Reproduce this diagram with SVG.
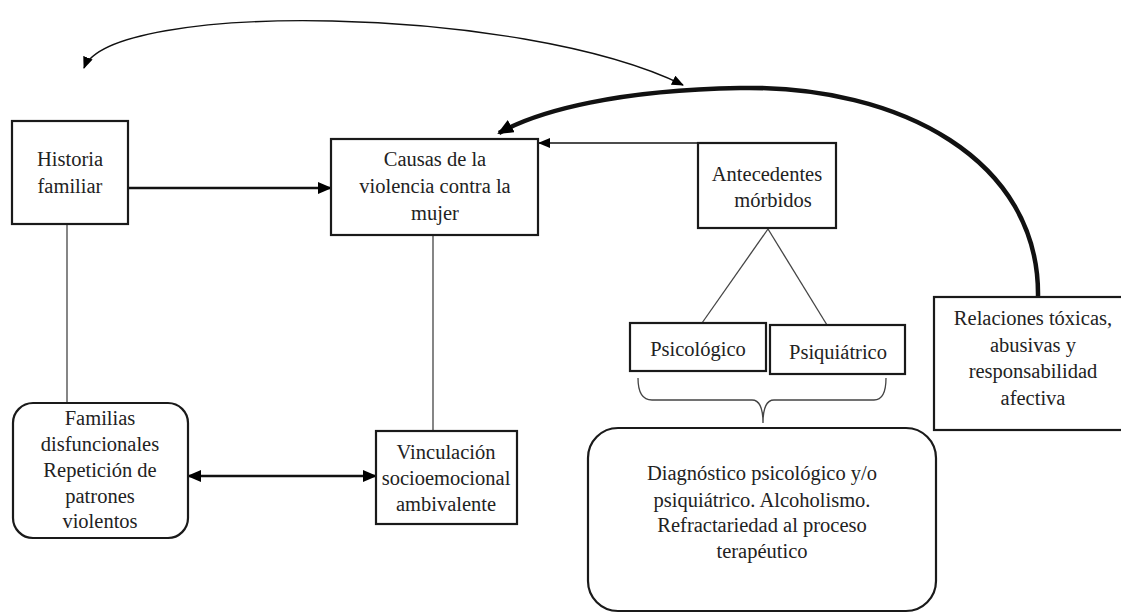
<svg xmlns="http://www.w3.org/2000/svg" width="1121" height="614" viewBox="0 0 1121 614">
<style>
.box{fill:#fff;stroke:#1a1a1a;stroke-width:2.2}
.t{font-family:"Liberation Serif","Times New Roman",serif;font-size:20.5px;fill:#222;text-anchor:middle}
.thin{fill:none;stroke:#444;stroke-width:1.3}
.arr{fill:none;stroke:#111}
</style>
<defs>
<marker id="ah" viewBox="0 0 12 10" refX="11" refY="5" markerWidth="12" markerHeight="10" markerUnits="userSpaceOnUse" orient="auto-start-reverse"><path d="M0,0 L12,5 L0,10 z" fill="#000"/></marker>
<marker id="ahb" viewBox="0 0 14 12" refX="13" refY="6" markerWidth="14" markerHeight="12" markerUnits="userSpaceOnUse" orient="auto-start-reverse"><path d="M0,0 L14,6 L0,12 z" fill="#000"/></marker>
<marker id="ahk" viewBox="0 0 16 14" refX="14" refY="7" markerWidth="16" markerHeight="14" markerUnits="userSpaceOnUse" orient="auto"><path d="M0,0 L16,7 L0,14 z" fill="#000"/></marker>
</defs>
<g id="connectors">
<path class="arr" d="M84 68 C 110 0, 520 5, 683 85" stroke-width="1.4" marker-start="url(#ah)" marker-end="url(#ah)"/>
<path class="arr" d="M1038 297 C 1040 160, 900 85, 740 88 C 620 90, 540 110, 499 133" stroke-width="4.5" marker-end="url(#ahk)"/>
<line class="arr" x1="128" y1="188" x2="331" y2="188" stroke-width="2.5" marker-end="url(#ahb)"/>
<line class="arr" x1="698" y1="143" x2="539" y2="143" stroke-width="1.3" stroke="#555" marker-end="url(#ah)"/>
<line class="thin" x1="67" y1="224" x2="67" y2="403"/>
<line class="thin" x1="433" y1="235" x2="433" y2="431"/>
<line class="thin" x1="768" y1="229" x2="702" y2="323"/>
<line class="thin" x1="768" y1="229" x2="827" y2="325"/>
<line class="arr" x1="188" y1="476" x2="376" y2="476" stroke-width="2.5" marker-start="url(#ahb)" marker-end="url(#ahb)"/>
<path class="thin" d="M638 378 Q 638 400, 652 400 L 752 400 Q 763 400, 763 423 Q 763 400, 774 400 L 874 400 Q 886 400, 886 378"/>
</g>
<g id="historia"><rect class="box" x="12" y="121" width="116" height="103"/>
<text class="t" x="70" y="166">Historia</text><text class="t" x="70" y="193">familiar</text></g>
<g id="causas"><rect class="box" x="331" y="139" width="207" height="96"/>
<text class="t" x="435" y="166">Causas de la</text><text class="t" x="435" y="193">violencia contra la</text><text class="t" x="435" y="220">mujer</text></g>
<g id="antecedentes"><rect class="box" x="698" y="143" width="138" height="85"/>
<text class="t" x="767" y="181">Antecedentes</text><text class="t" x="773" y="207">mórbidos</text></g>
<g id="psicologico"><rect class="box" x="630" y="323" width="136" height="48"/>
<text class="t" x="698" y="356">Psicológico</text></g>
<g id="psiquiatrico"><rect class="box" x="770" y="325" width="135" height="49"/>
<text class="t" x="838" y="359">Psiquiátrico</text></g>
<g id="relaciones"><rect class="box" x="934" y="297" width="200" height="133"/>
<text class="t" x="1033" y="325">Relaciones tóxicas,</text><text class="t" x="1033" y="352">abusivas y</text><text class="t" x="1033" y="378">responsabilidad</text><text class="t" x="1033" y="405">afectiva</text></g>
<g id="familias"><rect class="box" x="13" y="403" width="175" height="135" rx="20"/>
<text class="t" x="100" y="425">Familias</text><text class="t" x="100" y="451">disfuncionales</text><text class="t" x="100" y="477">Repetición de</text><text class="t" x="100" y="503">patrones</text><text class="t" x="100" y="528">violentos</text></g>
<g id="vinculacion"><rect class="box" x="376" y="431" width="141" height="93"/>
<text class="t" x="446" y="459">Vinculación</text><text class="t" x="446" y="485">socioemocional</text><text class="t" x="446" y="511">ambivalente</text></g>
<g id="diagnostico"><rect class="box" x="588" y="428" width="348" height="183" rx="30"/>
<text class="t" x="762" y="480">Diagnóstico psicológico y/o</text><text class="t" x="762" y="507">psiquiátrico. Alcoholismo.</text><text class="t" x="762" y="532">Refractariedad al proceso</text><text class="t" x="762" y="558">terapéutico</text></g>
</svg>
